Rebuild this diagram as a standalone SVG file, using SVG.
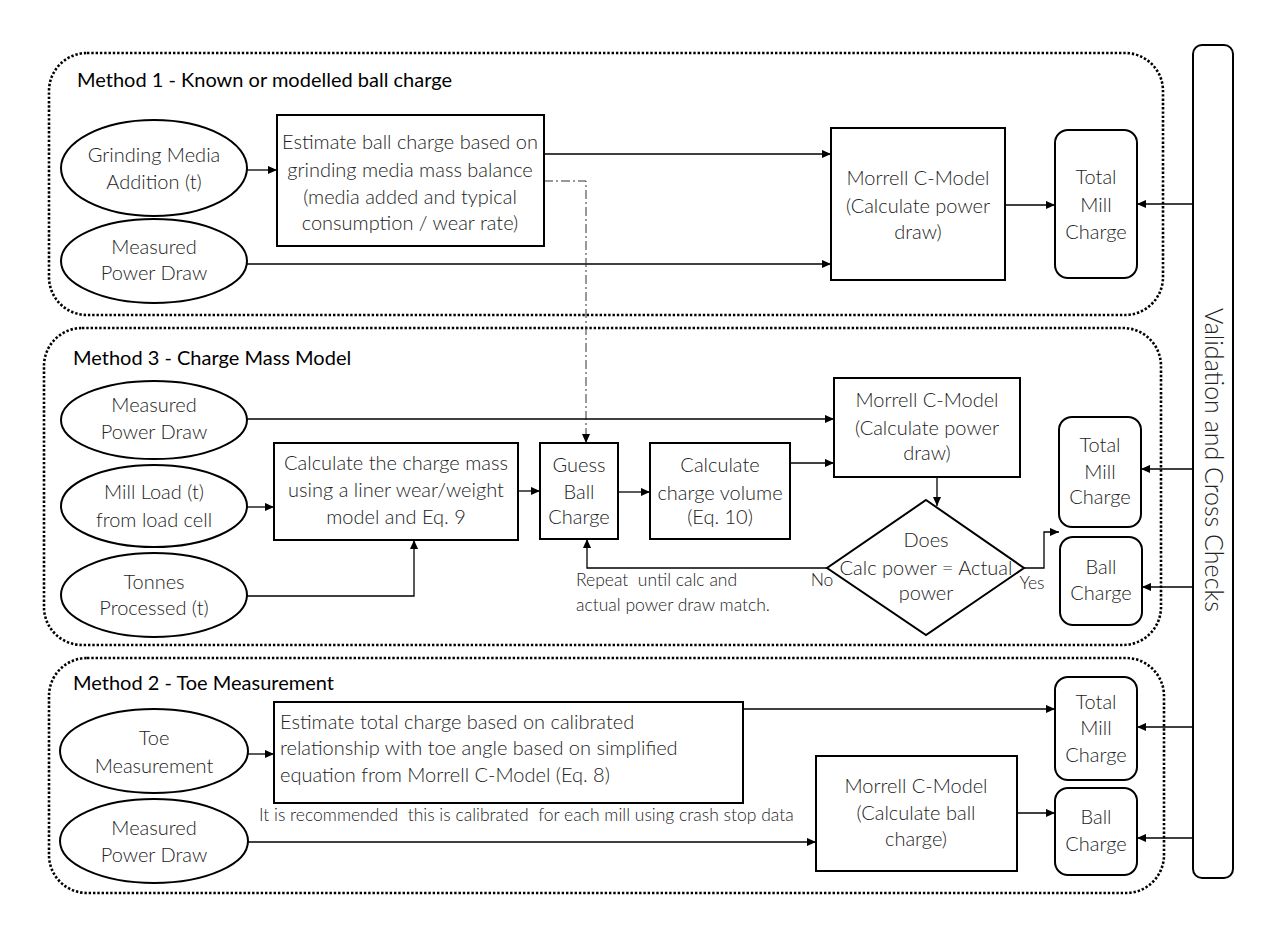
<svg xmlns="http://www.w3.org/2000/svg" width="1269" height="934" viewBox="0 0 1269 934">
<defs>
<marker id="arr" viewBox="0 0 10 10" refX="10" refY="5" markerWidth="10" markerHeight="9" markerUnits="userSpaceOnUse" orient="auto"><path d="M0,0.5 L10,5 L0,9.5 z" fill="#000"/></marker>
<style>
.grp{fill:none;stroke:#000;stroke-width:2.6;stroke-dasharray:2.4 1.9}
.box{fill:#fff;stroke:#000;stroke-width:2}
.t{font-family:Lato,"Liberation Sans",sans-serif;font-weight:300;font-size:20px;fill:#222;text-anchor:middle}
.tl{text-anchor:start}
.title{font-family:Lato,"Liberation Sans",sans-serif;font-weight:400;font-size:20px;fill:#000}
.sm{font-family:Lato,"Liberation Sans",sans-serif;font-weight:300;font-size:17.5px;fill:#222;white-space:pre}
.c{fill:none;stroke:#000;stroke-width:1.3;marker-end:url(#arr)}
.dd{fill:none;stroke:#333;stroke-width:1;stroke-dasharray:9 3 2 3;marker-end:url(#arr)}
</style>
</defs>
<rect width="1269" height="934" fill="#fff"/>

<g id="method1">
<rect class="grp" x="49" y="53" width="1114" height="262" rx="38"/>
<text class="title" x="77" y="87">Method 1 - Known or modelled ball charge</text>
</g>
<g id="method3">
<rect class="grp" x="44" y="328" width="1117" height="317" rx="38"/>
<text class="title" x="73" y="365">Method 3 - Charge Mass Model</text>
</g>
<g id="method2">
<rect class="grp" x="49" y="658" width="1115" height="235" rx="38"/>
<text class="title" x="73" y="690">Method 2 - Toe Measurement</text>
</g>

<g id="validation">
<rect class="box" x="1193" y="45" width="40" height="833" rx="9"/>
<text class="t" transform="translate(1213,460) rotate(90)" y="8" style="font-size:25px">Validation and Cross Checks</text>
</g>

<g id="connectors">
<path class="c" d="M247,170 H277"/>
<path class="c" d="M544,154 H831"/>
<path class="c" d="M247,264 H831"/>
<path class="c" d="M1005,205 H1055"/>
<path class="c" d="M1193,204 H1137"/>
<path class="dd" d="M544,181 H586 V443"/>
<path class="c" d="M247,419 H834"/>
<path class="c" d="M247,507 H274"/>
<path class="c" d="M247,596 H414 V540"/>
<path class="c" d="M518,491 H540"/>
<path class="c" d="M618,492 H650"/>
<path class="c" d="M790,463 H834"/>
<path class="c" d="M937,477 V506"/>
<path class="c" d="M827,568 H587 V539"/>
<path class="c" d="M1024,568 H1044 V532 H1059"/>
<path class="c" d="M1193,469 H1141"/>
<path class="c" d="M1193,587 H1142"/>
<path class="c" d="M248,754 H274"/>
<path class="c" d="M743,709 H1055"/>
<path class="c" d="M248,842 H816"/>
<path class="c" d="M1017,813 H1055"/>
<path class="c" d="M1193,727 H1137"/>
<path class="c" d="M1193,838 H1137"/>
</g>

<g id="m1-grinding">
<ellipse class="box" cx="154" cy="168" rx="93" ry="48"/>
<text class="t" x="154" y="162">Grinding Media</text>
<text class="t" x="154" y="189">Addition (t)</text>
</g>
<g id="m1-power">
<ellipse class="box" cx="154" cy="261" rx="93" ry="42"/>
<text class="t" x="154" y="254">Measured</text>
<text class="t" x="154" y="280">Power Draw</text>
</g>
<g id="m1-estimate">
<rect class="box" x="277" y="115" width="267" height="131"/>
<text class="t" x="410" y="149">Estimate ball charge based on</text>
<text class="t" x="410" y="177">grinding media mass balance</text>
<text class="t" x="410" y="204">(media added and typical</text>
<text class="t" x="410" y="230">consumption / wear rate)</text>
</g>
<g id="m1-morrell">
<rect class="box" x="831" y="128" width="174" height="152"/>
<text class="t" x="918" y="185">Morrell C-Model</text>
<text class="t" x="918" y="213">(Calculate power</text>
<text class="t" x="918" y="239">draw)</text>
</g>
<g id="m1-total">
<rect class="box" x="1055" y="130" width="82" height="148" rx="13"/>
<text class="t" x="1096" y="184">Total</text>
<text class="t" x="1096" y="212">Mill</text>
<text class="t" x="1096" y="239">Charge</text>
</g>

<g id="m3-power">
<ellipse class="box" cx="154" cy="420" rx="93" ry="39"/>
<text class="t" x="154" y="412">Measured</text>
<text class="t" x="154" y="439">Power Draw</text>
</g>
<g id="m3-millload">
<ellipse class="box" cx="154" cy="506" rx="93" ry="41"/>
<text class="t" x="154" y="499">Mill Load (t)</text>
<text class="t" x="154" y="527">from load cell</text>
</g>
<g id="m3-tonnes">
<ellipse class="box" cx="154" cy="595" rx="93" ry="42"/>
<text class="t" x="154" y="589">Tonnes</text>
<text class="t" x="154" y="615">Processed (t)</text>
</g>
<g id="m3-chargemass">
<rect class="box" x="274" y="443" width="244" height="97"/>
<text class="t" x="396" y="470">Calculate the charge mass</text>
<text class="t" x="396" y="497">using a liner wear/weight</text>
<text class="t" x="396" y="524">model and Eq. 9</text>
</g>
<g id="m3-guess">
<rect class="box" x="540" y="443" width="78" height="96"/>
<text class="t" x="579" y="472">Guess</text>
<text class="t" x="579" y="499">Ball</text>
<text class="t" x="579" y="524">Charge</text>
</g>
<g id="m3-volume">
<rect class="box" x="650" y="443" width="140" height="96"/>
<text class="t" x="720" y="472">Calculate</text>
<text class="t" x="720" y="500">charge volume</text>
<text class="t" x="720" y="524">(Eq. 10)</text>
</g>
<g id="m3-morrell">
<rect class="box" x="834" y="378" width="186" height="99"/>
<text class="t" x="927" y="407">Morrell C-Model</text>
<text class="t" x="927" y="435">(Calculate power</text>
<text class="t" x="927" y="460">draw)</text>
</g>
<g id="m3-decision">
<polygon class="box" points="926,500 1024,568 926,635 827,568"/>
<text class="t" x="926" y="547">Does</text>
<text class="t" x="926" y="575">Calc power = Actual</text>
<text class="t" x="926" y="600">power</text>
<text class="sm" x="822" y="586" text-anchor="middle">No</text>
<text class="sm" x="1032" y="589" text-anchor="middle">Yes</text>
<text class="sm" x="576" y="586" xml:space="preserve">Repeat  until calc and</text>
<text class="sm" x="576" y="611">actual power draw match.</text>
</g>
<g id="m3-total">
<rect class="box" x="1059" y="417" width="82" height="110" rx="13"/>
<text class="t" x="1100" y="452">Total</text>
<text class="t" x="1100" y="479">Mill</text>
<text class="t" x="1100" y="504">Charge</text>
</g>
<g id="m3-ball">
<rect class="box" x="1060" y="537" width="82" height="88" rx="13"/>
<text class="t" x="1101" y="574">Ball</text>
<text class="t" x="1101" y="600">Charge</text>
</g>

<g id="m2-toe">
<ellipse class="box" cx="154" cy="751" rx="94" ry="42"/>
<text class="t" x="154" y="745">Toe</text>
<text class="t" x="154" y="773">Measurement</text>
</g>
<g id="m2-power">
<ellipse class="box" cx="154" cy="841" rx="94" ry="42"/>
<text class="t" x="154" y="835">Measured</text>
<text class="t" x="154" y="862">Power Draw</text>
</g>
<g id="m2-estimate">
<rect class="box" x="274" y="702" width="469" height="101"/>
<text class="t tl" x="280" y="729">Estimate total charge based on calibrated</text>
<text class="t tl" x="280" y="755">relationship with toe angle based on simplified</text>
<text class="t tl" x="280" y="782">equation from Morrell C-Model (Eq. 8)</text>
<text class="sm" x="259" y="821" xml:space="preserve">It is recommended  this is calibrated  for each mill using crash stop data</text>
</g>
<g id="m2-morrell">
<rect class="box" x="816" y="756" width="201" height="115"/>
<text class="t" x="916" y="793">Morrell C-Model</text>
<text class="t" x="916" y="820">(Calculate ball</text>
<text class="t" x="916" y="846">charge)</text>
</g>
<g id="m2-total">
<rect class="box" x="1055" y="677" width="82" height="103" rx="13"/>
<text class="t" x="1096" y="709">Total</text>
<text class="t" x="1096" y="735">Mill</text>
<text class="t" x="1096" y="762">Charge</text>
</g>
<g id="m2-ball">
<rect class="box" x="1055" y="788" width="82" height="87" rx="13"/>
<text class="t" x="1096" y="824">Ball</text>
<text class="t" x="1096" y="851">Charge</text>
</g>
</svg>
